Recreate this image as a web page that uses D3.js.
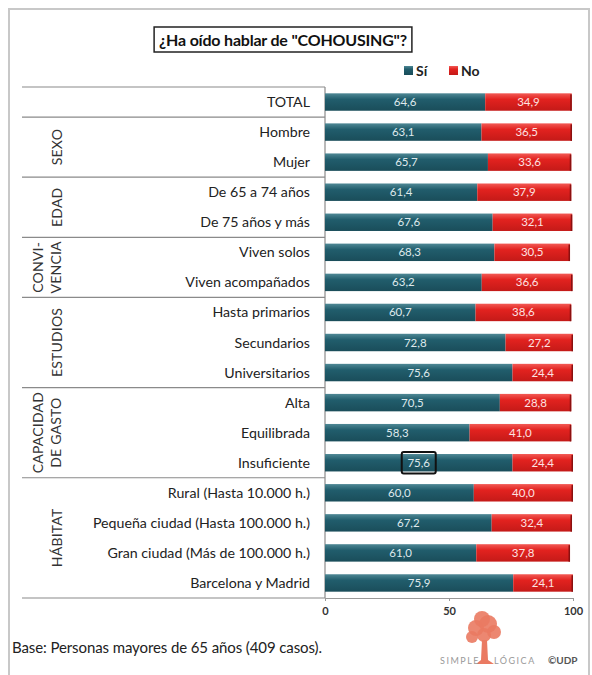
<!DOCTYPE html>
<html lang="es">
<head>
<meta charset="UTF-8">
<title>Cohousing</title>
<script src="https://cdn.jsdelivr.net/npm/d3@7/dist/d3.min.js"></script>
<style>
    body { margin: 0; background: #fff; }
    svg text { font-family: Lato, "Open Sans", sans-serif; }
</style>
</head>
<body>
<div class="chart"></div>
<script>
"use strict";

// datos
var categorias = ["TOTAL", "Hombre", "Mujer", "De 65 a 74 años", "De 75 años y más",
    "Viven solos", "Viven acompañados", "Hasta primarios", "Secundarios", "Universitarios",
    "Alta", "Equilibrada", "Insuficiente", "Rural (Hasta 10.000 h.)",
    "Pequeña ciudad (Hasta 100.000 h.)", "Gran ciudad (Más de 100.000 h.)", "Barcelona y Madrid"];
var si = [64.6, 63.1, 65.7, 61.4, 67.6, 68.3, 63.2, 60.7, 72.8, 75.6, 70.5, 58.3, 75.6, 60.0, 67.2, 61.0, 75.9];
var no = [34.9, 36.5, 33.6, 37.9, 32.1, 30.5, 36.6, 38.6, 27.2, 24.4, 28.8, 41.0, 24.4, 40.0, 32.4, 37.8, 24.1];
var grupos = [[""], ["SEXO"], ["EDAD"], ["CONVI-", "VENCIA"], ["ESTUDIOS"], ["CAPACIDAD", "DE GASTO"], ["HÁBITAT"]];
var grupoFilas = [1, 2, 2, 2, 3, 3, 4];
var ticks = [0, 50, 100];
var series = ["Sí", "No"];

var W = 592, H = 675;
var svg = d3.select(".chart").append("svg").attr("width", W).attr("height", H);

var defs = svg.append("defs");
function grad(id, c1, c2, c3) {
    var g = defs.append("linearGradient").attr("id", id).attr("x1", 0).attr("y1", 0).attr("x2", 0).attr("y2", 1);
    g.append("stop").attr("offset", "0%").attr("stop-color", c1);
    g.append("stop").attr("offset", "35%").attr("stop-color", c2);
    g.append("stop").attr("offset", "100%").attr("stop-color", c3);
}
grad("gSi", "#4f8895", "#215d6c", "#1a4d5a");
grad("gNo", "#f25a55", "#e2221f", "#c41a18");

// marco
svg.append("rect").attr("x", 9).attr("y", 9).attr("width", 580).attr("height", 700)
    .attr("fill", "none").attr("stroke", "#c8c8c8").attr("stroke-width", 2);

var x = d3.scaleLinear().domain([0, 100]).range([325, 573]);
var y = d3.scaleBand().domain(categorias).range([87, 598]).paddingInner(0.42).paddingOuter(0.21);
var step = y.step();
var top0 = 87;

// titulo
var titulo = svg.append("text").attr("x", 283).attr("y", 45.5).attr("text-anchor", "middle")
    .attr("font-size", 16).attr("font-weight", "bold").attr("fill", "#111")
    .attr("letter-spacing", -0.2)
    .text("¿Ha oído hablar de \"COHOUSING\"?");
var tw = titulo.node().getComputedTextLength();
svg.insert("rect", "text").attr("x", 283 - tw / 2 - 5).attr("y", 27).attr("width", tw + 10).attr("height", 25)
    .attr("fill", "none").attr("stroke", "#222").attr("stroke-width", 1.5);

// leyenda
var leg = svg.append("g");
[["gSi", 404, "Sí"], ["gNo", 449, "No"]].forEach(function (d) {
    leg.append("rect").attr("x", d[1]).attr("y", 66).attr("width", 9).attr("height", 9).attr("fill", "url(#" + d[0] + ")");
    leg.append("text").attr("x", d[1] + 12).attr("y", 76).attr("font-size", 14).attr("font-weight", "bold")
        .attr("fill", "#222").text(d[2]);
});

// separadores de grupos
var lineas = svg.append("g").attr("stroke", "#8a8a8a").attr("stroke-width", 1.2);
var acum = 0;
lineas.append("line").attr("x1", 22).attr("x2", 325).attr("y1", top0).attr("y2", top0);
grupoFilas.forEach(function (n, i) {
    var y0 = top0 + acum * step;
    acum += n;
    var y1 = top0 + acum * step;
    lineas.append("line").attr("x1", 22).attr("x2", 325).attr("y1", y1).attr("y2", y1);
    var lab = grupos[i];
    var cy = (y0 + y1) / 2;
    lab.forEach(function (t, j) {
        var cx = lab.length === 1 ? 57 : (j === 0 ? 38 : 56);
        svg.append("text").attr("transform", "translate(" + (cx + 5) + "," + cy + ") rotate(-90)")
            .attr("text-anchor", "middle").attr("font-size", 14).attr("fill", "#333")
            .attr("letter-spacing", 0.2).text(t);
    });
});
lineas.append("line").attr("x1", 325).attr("x2", 325).attr("y1", top0).attr("y2", 598);

// etiquetas de categorias
svg.append("g").selectAll("text").data(categorias).enter().append("text")
    .attr("x", 310).attr("y", function (d) { return y(d) + y.bandwidth() / 2 + 5; })
    .attr("text-anchor", "end").attr("font-size", 14.2).attr("fill", "#222")
    .text(function (d) { return d; });

// barras
var filas = categorias.map(function (c, i) { return { cat: c, si: si[i], no: no[i] }; });
var barras = svg.append("g");
barras.selectAll("rect.si").data(filas).enter().append("rect").attr("class", "si")
    .attr("x", x(0)).attr("y", function (d) { return y(d.cat); })
    .attr("width", function (d) { return x(d.si) - x(0); }).attr("height", y.bandwidth())
    .attr("fill", "url(#gSi)");
barras.selectAll("rect.no").data(filas).enter().append("rect").attr("class", "no")
    .attr("x", function (d) { return x(d.si); }).attr("y", function (d) { return y(d.cat); })
    .attr("width", function (d) { return x(d.si + d.no) - x(d.si); }).attr("height", y.bandwidth())
    .attr("fill", "url(#gNo)");
barras.selectAll("rect.sombra").data(filas).enter().append("rect").attr("class", "sombra")
    .attr("x", function (d) { return x(d.si + d.no) - 1.5; }).attr("y", function (d) { return y(d.cat) + 1; })
    .attr("width", 1.5).attr("height", y.bandwidth() - 1).attr("fill", "#8a1010");

var fmt = function (v) { return v.toFixed(1).replace(".", ","); };
barras.selectAll("text.si").data(filas).enter().append("text")
    .attr("x", function (d) { return x(d.si / 2); }).attr("y", function (d) { return y(d.cat) + y.bandwidth() / 2 + 4; })
    .attr("text-anchor", "middle").attr("font-size", 11.5).attr("fill", "#dfe9ec")
    .text(function (d) { return fmt(d.si); });
barras.selectAll("text.no").data(filas).enter().append("text")
    .attr("x", function (d) { return x(d.si + d.no / 2); }).attr("y", function (d) { return y(d.cat) + y.bandwidth() / 2 + 4; })
    .attr("text-anchor", "middle").attr("font-size", 11.5).attr("fill", "#fde2e2")
    .text(function (d) { return fmt(d.no); });

// recuadro en la etiqueta de Insuficiente
var ins = filas[categorias.indexOf("Insuficiente")];
svg.append("rect").attr("x", x(ins.si / 2) - 17).attr("y", y(ins.cat) - 2)
    .attr("width", 34).attr("height", y.bandwidth() + 4).attr("rx", 2)
    .attr("fill", "none").attr("stroke", "#111").attr("stroke-width", 2);

// eje x
var eje = svg.append("g").attr("transform", "translate(0,598)")
    .call(d3.axisBottom(x).tickValues(ticks).tickSize(3).tickPadding(6));
eje.select(".domain").attr("stroke", "#999");
eje.selectAll(".tick line").attr("stroke", "#999");
eje.selectAll(".tick text").attr("font-size", 11).attr("font-weight", "bold").attr("fill", "#333")
    .attr("font-family", "Lato, sans-serif");

// pie
svg.append("text").attr("x", 12).attr("y", 653).attr("font-size", 15).attr("fill", "#222")
    .attr("letter-spacing", -0.1)
    .text("Base: Personas mayores de 65 años (409 casos).");

// logo
var logo = svg.append("g").attr("fill", "#ea7a62");
[[476, 628, 8], [488, 624, 9], [482, 619, 8], [494, 632, 7], [472, 637, 6], [484, 635, 7]].forEach(function (c) {
    logo.append("circle").attr("cx", c[0]).attr("cy", c[1]).attr("r", c[2]).attr("opacity", 0.9);
});
logo.append("path").attr("d", "M482,640 L487,640 L488,660 L494,664 L476,664 L481,660 Z");
svg.append("text").attr("x", 440).attr("y", 664).attr("font-size", 9).attr("fill", "#999")
    .attr("letter-spacing", 1.5).text("SIMPLE");
svg.append("text").attr("x", 494).attr("y", 664).attr("font-size", 9).attr("fill", "#999")
    .attr("letter-spacing", 1.5).text("LÓGICA");
svg.append("text").attr("x", 548).attr("y", 664).attr("font-size", 10).attr("font-weight", "bold")
    .attr("fill", "#555").text("©UDP");
</script>
</body>
</html>
